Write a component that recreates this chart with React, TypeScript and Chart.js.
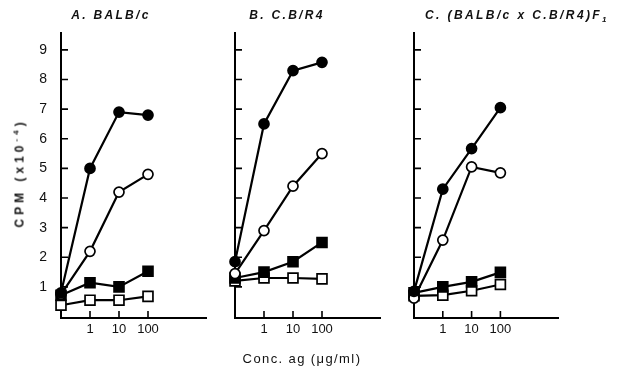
import React, { useEffect, useRef } from "react";
import { Chart, registerables } from "chart.js";

Chart.register(...registerables);

// concentration categories (x index 0..3), 0 = no antigen control
const concLabels = ["0", "1", "10", "100"];
const xTickIndex = [1, 2, 3];
const yTickValues = [1, 2, 3, 4, 5, 6, 7, 8, 9];

// Panel A. BALB/c
const aFilledCircle = [0.8, 5.0, 6.9, 6.8];
const aOpenCircle = [0.75, 2.2, 4.2, 4.8];
const aFilledSquare = [0.72, 1.14, 1.0, 1.53];
const aOpenSquare = [0.38, 0.55, 0.55, 0.68];

// Panel B. C.B/R4
const bFilledCircle = [1.85, 6.5, 8.3, 8.58];
const bOpenCircle = [1.45, 2.9, 4.4, 5.5];
const bFilledSquare = [1.3, 1.5, 1.85, 2.5];
const bOpenSquare = [1.2, 1.3, 1.3, 1.27];

// Panel C. (BALB/c x C.B/R4)F1
const cFilledCircle = [0.85, 4.3, 5.67, 7.05];
const cOpenCircle = [0.62, 2.58, 5.05, 4.85];
const cFilledSquare = [0.8, 1.0, 1.17, 1.49];
const cOpenSquare = [0.7, 0.72, 0.87, 1.08];

const FONT = "'Liberation Sans', Arial, sans-serif";

function toPoints(vals: number[]) {
  return vals.map((y, i) => ({ x: i, y }));
}

function ds(vals: number[], filled: boolean, square: boolean) {
  return {
    data: toPoints(vals),
    borderColor: "#000",
    borderWidth: 2.2,
    backgroundColor: filled ? "#000" : "#fff",
    pointBackgroundColor: filled ? "#000" : "#fff",
    pointBorderColor: "#000",
    pointBorderWidth: 1.7,
    pointStyle: square ? "rect" : "circle",
    pointRadius: square ? 7 : 5,
    tension: 0,
    clip: false as any,
  };
}

const inwardTicks = {
  id: "inwardTicks",
  afterDraw(chart: any) {
    const { ctx, chartArea } = chart;
    const xs = chart.scales.x;
    const ys = chart.scales.y;
    ctx.save();
    ctx.strokeStyle = "#000";
    ctx.lineWidth = 1.6;
    ctx.beginPath();
    yTickValues.forEach((v) => {
      const y = ys.getPixelForValue(v);
      ctx.moveTo(chartArea.left, y);
      ctx.lineTo(chartArea.left + 7, y);
    });
    xTickIndex.forEach((v) => {
      const x = xs.getPixelForValue(v);
      ctx.moveTo(x, chartArea.bottom);
      ctx.lineTo(x, chartArea.bottom - 7);
    });
    ctx.stroke();
    ctx.restore();
  },
};

type PanelProps = {
  left: number;
  width: number;
  yWidth: number;
  padRight: number;
  xMax: number;
  showYLabels: boolean;
  series: number[][];
};

function Panel(p: PanelProps) {
  const ref = useRef<HTMLCanvasElement>(null);
  useEffect(() => {
    const chart = new Chart(ref.current as HTMLCanvasElement, {
      type: "line",
      data: {
        datasets: [
          ds(p.series[0], true, false),
          ds(p.series[1], false, false),
          ds(p.series[2], true, true),
          ds(p.series[3], false, true),
        ] as any,
      },
      options: {
        animation: false,
        responsive: false,
        layout: { padding: { top: 33, bottom: 36, left: 0, right: p.padRight } },
        plugins: { legend: { display: false }, tooltip: { enabled: false } },
        scales: {
          x: {
            type: "linear",
            min: 0,
            max: p.xMax,
            afterBuildTicks: (s: any) => {
              s.ticks = xTickIndex.map((v) => ({ value: v }));
            },
            afterFit: (s: any) => {
              s.height = 20;
            },
            ticks: {
              autoSkip: false,
              maxRotation: 0,
              padding: 4,
              color: "#111",
              font: { family: FONT, size: 13 },
              callback: (v: any) => concLabels[v as number],
            },
            grid: { display: true, drawOnChartArea: false, drawTicks: false },
            border: { display: true, color: "#000", width: 2 },
          },
          y: {
            type: "linear",
            min: -0.05,
            max: 9.57,
            afterBuildTicks: (s: any) => {
              s.ticks = yTickValues.map((v) => ({ value: v }));
            },
            afterFit: (s: any) => {
              s.width = p.yWidth;
            },
            ticks: {
              display: p.showYLabels,
              padding: 14,
              color: "#111",
              font: { family: FONT, size: 14 },
              callback: (v: any) => String(v),
            },
            grid: { display: true, drawOnChartArea: false, drawTicks: false },
            border: { display: true, color: "#000", width: 2 },
          },
        },
      } as any,
      plugins: [inwardTicks],
    });
    return () => chart.destroy();
  }, []);
  return (
    <canvas
      ref={ref}
      width={p.width}
      height={374}
      style={{ position: "absolute", left: p.left, top: 0, width: p.width, height: 374 }}
    />
  );
}

const titleStyle: React.CSSProperties = {
  position: "absolute",
  top: 8,
  fontFamily: FONT,
  fontStyle: "italic",
  fontWeight: "bold",
  fontSize: 12,
  letterSpacing: 2.3,
  whiteSpace: "nowrap",
  transform: "translateX(-50%)",
  color: "#111",
};

export default function App() {
  return (
    <div
      style={{
        position: "absolute",
        left: 0,
        top: 0,
        width: 618,
        height: 374,
        background: "#fff",
        overflow: "hidden",
      }}
    >
      <Panel
        left={0}
        width={215}
        yWidth={61}
        padRight={9}
        xMax={5}
        showYLabels={true}
        series={[aFilledCircle, aOpenCircle, aFilledSquare, aOpenSquare]}
      />
      <Panel
        left={215}
        width={175}
        yWidth={20}
        padRight={10}
        xMax={5}
        showYLabels={false}
        series={[bFilledCircle, bOpenCircle, bFilledSquare, bOpenSquare]}
      />
      <Panel
        left={390}
        width={228}
        yWidth={24}
        padRight={60}
        xMax={5}
        showYLabels={false}
        series={[cFilledCircle, cOpenCircle, cFilledSquare, cOpenSquare]}
      />
      <div style={{ ...titleStyle, left: 111 }}>A. BALB/c</div>
      <div style={{ ...titleStyle, left: 287 }}>B. C.B/R4</div>
      <div style={{ ...titleStyle, left: 517, letterSpacing: 2.4 }}>
        C. (BALB/c x C.B/R4)F<sub style={{ fontSize: 8 }}>1</sub>
      </div>
      <div
        style={{
          position: "absolute",
          left: 19,
          top: 173,
          transform: "translate(-50%, -50%) rotate(-90deg)",
          fontFamily: FONT,
          fontWeight: "bold",
          fontSize: 12,
          letterSpacing: 4,
          whiteSpace: "nowrap",
          color: "#111",
        }}
      >
        CPM (x10<sup style={{ fontSize: 8 }}>-4</sup>)
      </div>
      <div
        style={{
          position: "absolute",
          left: 302,
          top: 358,
          transform: "translate(-50%, -50%)",
          fontFamily: FONT,
          fontSize: 13,
          letterSpacing: 1.4,
          whiteSpace: "nowrap",
          color: "#111",
        }}
      >
        Conc. ag (μg/ml)
      </div>
    </div>
  );
}
